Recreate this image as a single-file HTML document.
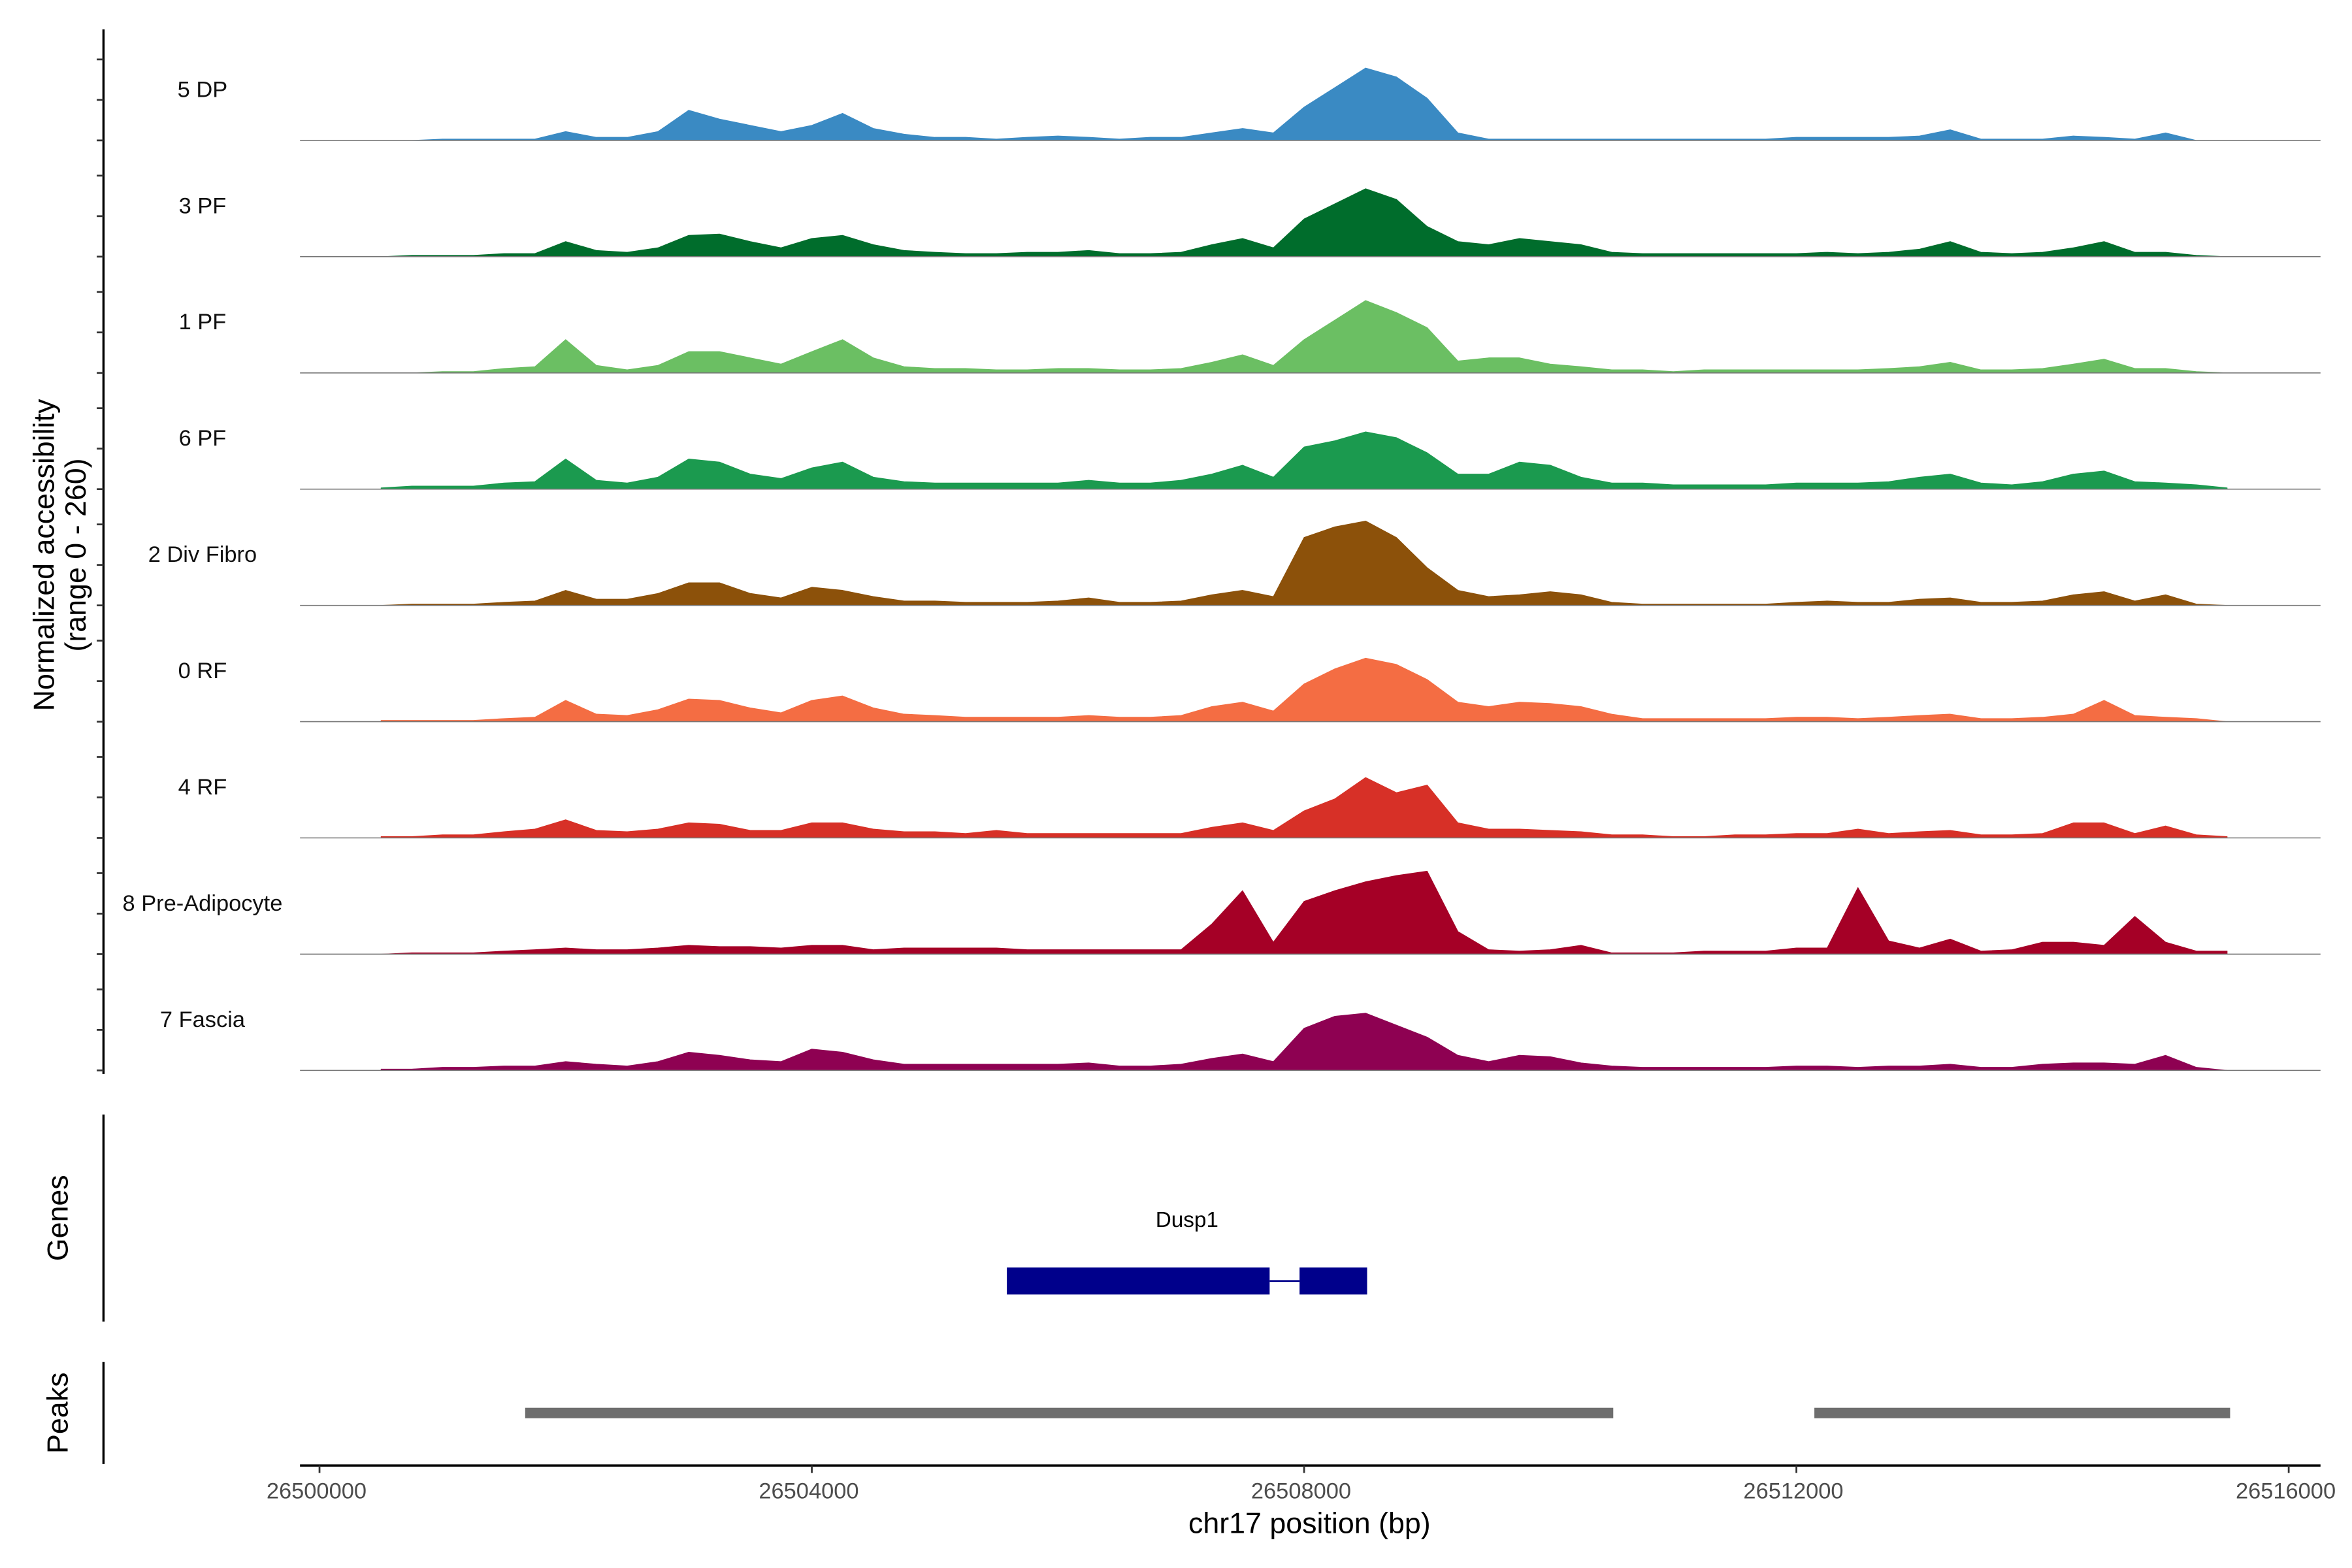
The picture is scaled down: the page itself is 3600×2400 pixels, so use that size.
<!DOCTYPE html>
<html><head><meta charset="utf-8"><style>
html,body{margin:0;padding:0;background:#fff}
svg{display:block}
text{font-family:"Liberation Sans",Arial,sans-serif}
</style></head><body>
<svg id="chart" xmlns="http://www.w3.org/2000/svg" width="3600" height="2400" viewBox="0 0 1568 1045.333">
<rect width="1568" height="1046" fill="#fff"/>
<g id="tracks"></g>
<line x1="69" y1="19.6" x2="69" y2="716" stroke="#000" stroke-width="1.5"/>
<g id="yticks"></g>
<text transform="translate(36,370) rotate(-90)" text-anchor="middle" font-size="19.5" fill="#000">Normalized accessibility</text>
<text transform="translate(57,370) rotate(-90)" text-anchor="middle" font-size="19.5" fill="#000">(range 0 - 260)</text>
<line x1="69" y1="743" x2="69" y2="881" stroke="#000" stroke-width="1.5"/>
<text transform="translate(45,812) rotate(-90)" text-anchor="middle" font-size="19.5">Genes</text>
<g id="genes"></g>
<line x1="69" y1="908" x2="69" y2="976" stroke="#000" stroke-width="1.5"/>
<text transform="translate(45,942) rotate(-90)" text-anchor="middle" font-size="19.5">Peaks</text>
<g id="peaks"></g>
<line x1="200" y1="977" x2="1547" y2="977" stroke="#000" stroke-width="1.5"/>
<g id="xticks"></g>
<text x="873" y="1022" text-anchor="middle" font-size="19.5">chr17 position (bp)</text>
</svg>
<script>
const trackNames = ["5 DP","3 PF","1 PF","6 PF","2 Div Fibro","0 RF","4 RF","8 Pre-Adipocyte","7 Fascia"];
const trackColors = ["#3a8ac3","#006d2c","#6bbf63","#1b9a4f","#8c510a","#f46d43","#d73027","#a50026","#8e0152"];
const binStartBp = 26500500;
const binSizeBp = 250;
const yMax = 260;
const cov5DP = [0,0,3,3,3,3,20,7,7,20,68,48,34,20,34,61,27,14,7,7,3,7,10,7,3,7,7,17,27,17,75,119,163,143,95,17,3,3,3,3,3,3,3,3,3,3,7,7,7,7,10,24,3,3,3,10,7,3,17,0,0];
const cov3PF = [0,3,3,3,7,7,34,14,10,20,48,51,34,20,41,48,27,14,10,7,7,10,10,14,7,7,10,27,41,20,85,119,153,129,68,34,27,41,34,27,10,7,7,7,7,7,7,10,7,10,17,34,10,7,10,20,34,10,10,3,0];
const cov1PF = [0,0,3,3,10,14,75,17,7,17,48,48,34,20,48,75,34,14,10,10,7,7,10,10,7,7,10,24,41,17,75,119,163,136,102,27,34,34,20,14,7,7,3,7,7,7,7,7,7,10,14,24,7,7,10,20,31,10,10,3,0];
const cov6PF = [3,7,7,7,14,17,68,20,14,27,68,61,34,24,48,61,27,17,14,14,14,14,14,20,14,14,20,34,54,27,95,109,129,116,82,34,34,61,54,27,14,14,10,10,10,10,14,14,14,17,27,34,14,10,17,34,41,17,14,10,3];
const cov2DivFibro = [0,3,3,3,7,10,34,14,14,27,51,51,27,17,41,34,20,10,10,7,7,7,10,17,7,7,10,24,34,20,153,177,190,153,85,34,20,24,31,24,7,3,3,3,3,3,7,10,7,7,14,17,7,7,10,24,31,10,24,3,0];
const cov0RF = [3,3,3,3,7,10,48,17,14,27,51,48,31,20,48,58,31,17,14,10,10,10,10,14,10,10,14,34,44,24,85,119,143,129,95,44,34,44,41,34,17,7,7,7,7,7,10,10,7,10,14,17,7,7,10,17,48,14,10,7,0];
const cov4RF = [3,3,7,7,14,20,41,17,14,20,34,31,17,17,34,34,20,14,14,10,17,10,10,10,10,10,10,24,34,17,61,88,136,102,119,34,20,20,17,14,7,7,3,3,7,7,10,10,20,10,14,17,7,7,10,34,34,10,27,7,3];
const cov8PreAdipocyte = [0,3,3,3,7,10,14,10,10,14,20,17,17,14,20,20,10,14,14,14,14,10,10,10,10,10,10,68,143,27,119,143,163,177,187,51,10,7,10,20,3,3,3,7,7,7,14,14,150,30,14,34,7,10,27,27,20,85,27,7,7];
const cov7Fascia = [3,3,7,7,10,10,20,14,10,20,41,34,24,20,48,41,24,14,14,14,14,14,14,17,10,10,14,27,37,20,95,122,129,102,75,34,20,34,31,17,10,7,7,7,7,7,10,10,7,10,10,14,7,7,14,17,17,14,34,7,0];
const coverage = [cov5DP,cov3PF,cov1PF,cov6PF,cov2DivFibro,cov0RF,cov4RF,cov8PreAdipocyte,cov7Fascia];
const xTicks = [26500000,26504000,26508000,26512000,26516000];
const xTickLabels = ["26500000","26504000","26508000","26512000","26516000"];
const geneName = "Dusp1";
const geneExons = [[26505585,26507720],[26507963,26508512]];
const peakRanges = [[26501671,26510512],[26512146,26515524]];

const NS = "http://www.w3.org/2000/svg";
const X0 = 213, PXPERBP = 0.08205;
function xScale(bp){ return X0 + (bp - 26500000) * PXPERBP; }
const firstBase = 93.6, trackStep = 77.5, trackH = 77;
function yScale(v, k){ return firstBase + k*trackStep - (v / yMax) * trackH; }
function mk(tag, attrs, parent){ const e=document.createElementNS(NS,tag); for(const k in attrs) e.setAttribute(k,attrs[k]); parent.appendChild(e); return e; }

const tracksG = document.getElementById('tracks');
coverage.forEach((vals,k)=>{
  const base = firstBase + k*trackStep;
  const g = mk('g',{},tracksG);
  
  
  let d = 'M' + xScale(binStartBp).toFixed(2) + ',' + base;
  vals.forEach((v,i)=>{ d += ' L' + xScale(binStartBp + i*binSizeBp).toFixed(2) + ',' + yScale(v,k).toFixed(2); });
  d += ' L' + xScale(binStartBp + (vals.length-1)*binSizeBp).toFixed(2) + ',' + base + ' Z';
  const p = mk('path',{d:d, fill:trackColors[k], stroke:trackColors[k], 'stroke-width':0.4, 'stroke-linejoin':'round'},g);
  
  
  const bl = mk('line',{x1:200,y1:base,x2:1547,y2:base,stroke:'#777','stroke-width':0.7},g);
  
  
  const t = mk('text',{x:135,y:base-29,'text-anchor':'middle','font-size':15,fill:'#111'},g);
  t.textContent = trackNames[k];
  
  
});

const yt = document.getElementById('yticks');
for(let k=0;k<9;k++){
  [0,27,54].forEach(off=>{
    const y = firstBase + k*trackStep - off;
    const l = mk('line',{x1:64.5,y1:y,x2:69,y2:y,stroke:'#333','stroke-width':1.2},yt);
    
    
  });
}

const gg = document.getElementById('genes');
const gl = mk('text',{x:(xScale(geneExons[0][0])+xScale(geneExons[1][1]))/2+0,y:818,'text-anchor':'middle','font-size':14.5},gg);
gl.textContent = geneName;


const intron = mk('line',{x1:xScale(geneExons[0][1]),y1:854,x2:xScale(geneExons[1][0]),y2:854,stroke:'#00008b','stroke-width':1.2},gg);


geneExons.forEach(e=>{
  const r = mk('rect',{x:xScale(e[0]),y:845,width:xScale(e[1])-xScale(e[0]),height:18,fill:'#00008b'},gg);
  
  
});

const pg = document.getElementById('peaks');
peakRanges.forEach(p=>{
  const r = mk('rect',{x:xScale(p[0]),y:938.5,width:xScale(p[1])-xScale(p[0]),height:7,fill:'#6e6e6e'},pg);
  
  
});

const xt = document.getElementById('xticks');
xTicks.forEach((v,i)=>{
  const x = xScale(v);
  const l = mk('line',{x1:x,y1:977,x2:x,y2:982,stroke:'#333','stroke-width':1.2},xt);
  
  
  const t = mk('text',{x:x-2,y:999,'text-anchor':'middle','font-size':15,fill:'#4d4d4d'},xt);
  t.textContent = xTickLabels[i];
  
  
});
</script>
</body></html>
